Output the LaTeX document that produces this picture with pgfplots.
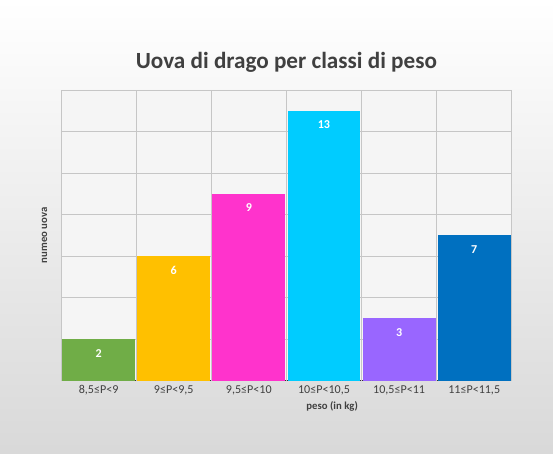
\documentclass[border=0pt]{standalone}
\usepackage{pgfplots}
\pgfplotsset{compat=1.18}
\usepackage{fontspec}
\setmainfont{Carlito}
\definecolor{cgreen}{HTML}{70AD47}
\definecolor{corange}{HTML}{FFC000}
\definecolor{cmag}{HTML}{FF33CC}
\definecolor{ccyan}{HTML}{00CCFF}
\definecolor{cpurp}{HTML}{9966FF}
\definecolor{cblue}{HTML}{0070C0}
\definecolor{tgray}{HTML}{404040}
\begin{document}
\begin{tikzpicture}
\fill[top color=white, bottom color=gray!30] (-1.6,-1.9) rectangle (12.9,9.98);
\begin{axis}[
  width=13.4cm, height=9.2cm,
  at={(0,0)},
  /pgf/number format/assume math mode=true,
  xmin=-0.5, xmax=5.5, ymin=0, ymax=14,
  ytick={0,2,...,14}, yticklabels={},
  ymajorgrids,
  xtick={0,...,5}, xticklabels={{8,5≤P<9},{9≤P<9,5},{9,5≤P<10},{10≤P<10,5},{10,5≤P<11},{11≤P<11,5}},
  extra x ticks={-0.5,0.5,1.5,2.5,3.5,4.5,5.5}, extra x tick labels={},
  extra x tick style={grid=major, major tick length=0pt},
  grid style={gray!45, line width=0.5pt},
  major tick length=0pt,
  axis line style={draw=none},
  axis x line*=bottom,
  x axis line style={draw=black!80, line width=1.2pt},
  axis background/.style={fill=gray!8},
  ylabel={numeo uova}, ylabel style={font=\footnotesize\bfseries, text=tgray},
  xlabel={peso (in kg)}, xlabel style={font=\footnotesize\bfseries, text=tgray, xshift=1.2cm, yshift=2pt},
  xticklabel style={font=\small, text=tgray},
  title={Uova di drago per classi di peso},
  title style={font=\LARGE\bfseries, text=tgray, yshift=4pt},
  bar width=0.97, ybar=0pt,
  nodes near coords, nodes near coords align={below},
  every node near coord/.append style={font=\small\bfseries, text=white, yshift=-4pt},
]
\addplot[ybar, fill=cgreen, draw=none, bar shift=0pt] coordinates {(0,2)};
\addplot[ybar, fill=corange, draw=none, bar shift=0pt] coordinates {(1,6)};
\addplot[ybar, fill=cmag, draw=none, bar shift=0pt] coordinates {(2,9)};
\addplot[ybar, fill=ccyan, draw=none, bar shift=0pt] coordinates {(3,13)};
\addplot[ybar, fill=cpurp, draw=none, bar shift=0pt] coordinates {(4,3)};
\addplot[ybar, fill=cblue, draw=none, bar shift=0pt] coordinates {(5,7)};
\end{axis}
\end{tikzpicture}
\end{document}
